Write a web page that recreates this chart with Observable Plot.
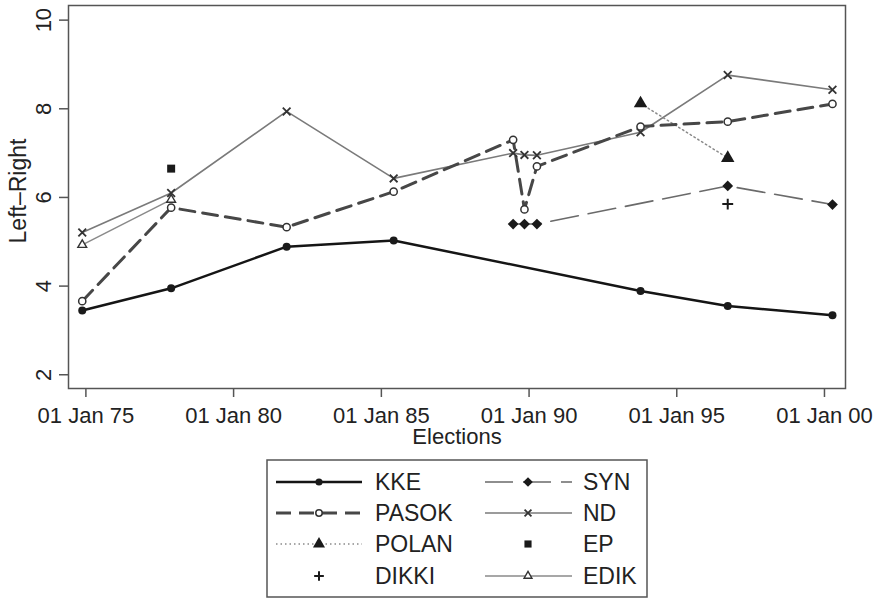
<!DOCTYPE html>
<html>
<head>
<meta charset="utf-8">
<script src="https://cdn.jsdelivr.net/npm/d3@7"></script>
<script src="https://cdn.jsdelivr.net/npm/@observablehq/plot@0.6"></script>
<style>
  html, body { margin: 0; padding: 0; background: #fff; }
  #chart svg, #legend svg { display: block; }
  #chart, #legend { width: 879px; }
</style>
</head>
<body>
<div id="chart"></div>
<div id="legend"></div>
<script>
// Election dates (Greece)
const elections = ["1974-11-17","1977-11-20","1981-10-18","1985-06-02","1989-06-18","1989-11-05","1990-04-08","1993-10-10","1996-09-22","2000-04-09"];
// Left-Right placement per party (null = not present)
const kke   = [3.45, 3.95, 4.89, 5.03, null, null, null, 3.89, 3.55, 3.34];
const pasok = [3.66, 5.77, 5.33, 6.13, 7.30, 5.73, 6.70, 7.60, 7.71, 8.11];
const nd    = [5.21, 6.10, 7.94, 6.43, 7.00, 6.96, 6.95, 7.47, 8.76, 8.43];
const syn   = [null, null, null, null, 5.40, 5.40, 5.40, null, 6.26, 5.84];
const polan = [null, null, null, null, null, null, null, 8.12, 6.89, null];
const ep    = [null, 6.65, null, null, null, null, null, null, null, null];
const dikki = [null, null, null, null, null, null, null, null, 5.85, null];
const edik  = [4.93, 5.95, null, null, null, null, null, null, null, null];

const xTicks = ["1975-01-01","1980-01-01","1985-01-01","1990-01-01","1995-01-01","2000-01-01"];
const yTicks = [2, 4, 6, 8, 10];
const xLabel = "Elections";
const yLabel = "Left–Right";

const series = [
  {name: "KKE",   values: kke,   stroke: "#151515", width: 2.5, dash: null,    symbol: "circle",    rot: 0,  fill: "#1a1a1a", mstroke: "none", r: 4, sw: 1.4, line: true},
  {name: "PASOK", values: pasok, stroke: "#474747", width: 3,   dash: "15,8",  symbol: "circle",    rot: 0,  fill: "white",   mstroke: "#333", r: 3.6, sw: 1.5, line: true},
  {name: "POLAN", values: polan, stroke: "#8a8a8a", width: 1.5, dash: "1.5,3", symbol: "triangle",  rot: 0,  fill: "#1a1a1a", mstroke: "none", r: 5, sw: 1.4, line: true},
  {name: "DIKKI", values: dikki, stroke: "#1a1a1a", width: 1.5, dash: null,    symbol: "plus",      rot: 0,  fill: "none",    mstroke: "#1a1a1a", r: 3.6, sw: 2, line: false},
  {name: "SYN",   values: syn,   stroke: "#6a6a6a", width: 1.6, dash: "28,10", symbol: "square",    rot: 45, fill: "#1a1a1a", mstroke: "none", r: 4.3, sw: 1.4, line: true},
  {name: "ND",    values: nd,    stroke: "#7a7a7a", width: 1.6, dash: null,    symbol: "times",     rot: 0,  fill: "none",    mstroke: "#333", r: 3.6, sw: 1.8, line: true},
  {name: "EP",    values: ep,    stroke: "#1a1a1a", width: 1.5, dash: null,    symbol: "square",    rot: 0,  fill: "#1a1a1a", mstroke: "none", r: 4.5, sw: 1.4, line: false},
  {name: "EDIK",  values: edik,  stroke: "#8a8a8a", width: 1.5, dash: null,    symbol: "triangle2", rot: 0,  fill: "white",   mstroke: "#333", r: 4.2, sw: 1.4, line: true}
];

const parse = d3.utcParse("%Y-%m-%d");
function rows(s) {
  return elections.map((d, i) => ({date: parse(d), value: s.values[i], party: s.name}))
                  .filter(d => d.value != null);
}

const marks = [
  Plot.frame({stroke: "#555", strokeWidth: 1.5}),
  Plot.axisX({ticks: xTicks.map(parse), tickFormat: d3.utcFormat("%d %b %y"), tickSize: 9, tickPadding: 10, label: null, stroke: "#555", strokeWidth: 1.5, fill: "#222"}),
  Plot.axisY({ticks: yTicks, tickSize: 9, tickPadding: 9, tickRotate: -90, label: null, stroke: "#555", strokeWidth: 1.5, fill: "#222"}),
  Plot.text([xLabel], {text: d => d, frameAnchor: "bottom", dy: 40, lineAnchor: "top", textAnchor: "middle", fill: "#222"}),
  Plot.text([yLabel], {text: d => d, frameAnchor: "left", dx: -43, dy: -6, rotate: -90, textAnchor: "middle", lineAnchor: "bottom", fill: "#222", fontSize: 23})
];
const draw = [...series].reverse();
for (const s of draw) {
  if (s.line) marks.push(Plot.line(rows(s), {x: "date", y: "value", stroke: s.stroke, strokeWidth: s.width, strokeDasharray: s.dash}));
}
for (const s of draw) {
  marks.push(Plot.dot(rows(s), {x: "date", y: "value", symbol: s.symbol, rotate: s.rot, r: s.r, fill: s.fill, stroke: s.mstroke, strokeWidth: s.sw}));
}

const chart = Plot.plot({
  width: 879, height: 450,
  marginLeft: 68, marginRight: 34, marginTop: 5, marginBottom: 62,
  x: {type: "utc", domain: [parse("1974-05-31"), parse("2000-09-17")]},
  y: {domain: [1.69, 10.33]},
  style: {fontFamily: "'Liberation Sans', Arial, sans-serif", fontSize: "22px", color: "#222", background: "white", overflow: "visible"},
  marks
});
document.getElementById("chart").append(chart);

// Legend
const L = d3.select("#legend").append("svg").attr("width", 879).attr("height", 150)
  .style("font-family", "'Liberation Sans', Arial, sans-serif").style("font-size", "23px");
L.append("rect").attr("x", 267).attr("y", 10).attr("width", 380).attr("height", 137)
  .attr("fill", "white").attr("stroke", "#555").attr("stroke-width", 1.5);
const rowsY = [32, 63, 94, 126];
const cols = [{x0: 276, x1: 362, xm: 319, xt: 375}, {x0: 485, x1: 572, xm: 528, xt: 583}];
const symMap = {circle: d3.symbolCircle, triangle: d3.symbolTriangle, plus: d3.symbolPlus, square: d3.symbolSquare, times: d3.symbolTimes, triangle2: d3.symbolTriangle2};
series.forEach((s, i) => {
  const c = cols[i < 4 ? 0 : 1];
  const y = rowsY[i % 4];
  if (s.line) {
    L.append("line").attr("x1", c.x0).attr("x2", c.x1).attr("y1", y).attr("y2", y)
      .attr("stroke", s.stroke).attr("stroke-width", s.width).attr("stroke-dasharray", s.dash);
  }
  const size = Math.PI * s.r * s.r * 0.8;
  L.append("path").attr("d", d3.symbol(symMap[s.symbol], size)())
    .attr("transform", `translate(${c.xm},${y}) rotate(${s.rot})`)
    .attr("fill", s.fill).attr("stroke", s.mstroke).attr("stroke-width", s.sw);
  L.append("text").attr("x", c.xt).attr("y", y).attr("dy", "0.36em").attr("fill", "#222").text(s.name);
});
</script>
</body>
</html>
